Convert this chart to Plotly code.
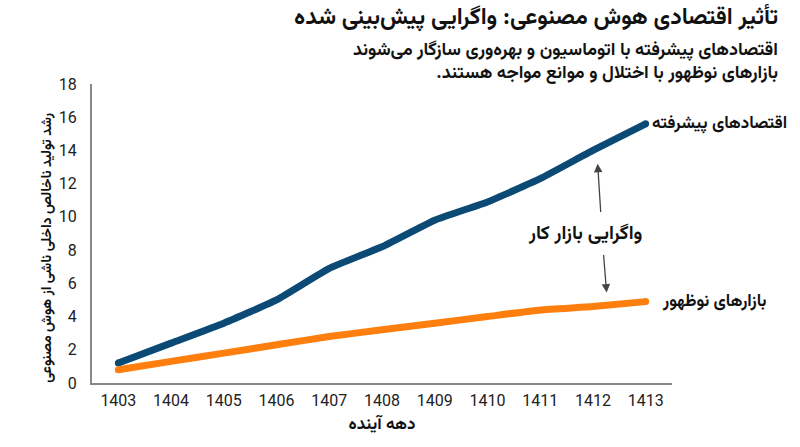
import plotly.graph_objects as go

years = [1403, 1404, 1405, 1406, 1407, 1408, 1409, 1410, 1411, 1412, 1413]
advanced = [1.2, 2.4, 3.6, 5.0, 6.9, 8.2, 9.8, 10.9, 12.3, 14.0, 15.6]
emerging = [0.8, 1.3, 1.8, 2.3, 2.8, 3.2, 3.6, 4.0, 4.4, 4.6, 4.9]
advanced_label = "اقتصادهای پیشرفته"
emerging_label = "بازارهای نوظهور"
gap_label = "واگرایی بازار کار"

blue = "#0c4a76"
orange = "#ff7f0e"
fa_font = "Vazirmatn, 'Noto Sans Arabic', 'DejaVu Sans', sans-serif"
RLM = "\u200f"

fig = go.Figure()
for vals, color in [(advanced, blue), (emerging, orange)]:
    fig.add_trace(go.Scatter(x=years, y=vals, mode="lines",
                             line=dict(color=color, width=7, shape="spline", smoothing=0.4),
                             hoverinfo="skip"))
    # round ends
    fig.add_trace(go.Scatter(x=[years[0], years[-1]], y=[vals[0], vals[-1]], mode="markers",
                             marker=dict(color=color, size=7), hoverinfo="skip"))

fig.add_annotation(x=years[-1], y=advanced[-1], text="<b>" + advanced_label + "</b>",
                   xanchor="left", yanchor="middle", xshift=4, showarrow=False,
                   font=dict(family=fa_font, size=17, color="#111"))
fig.add_annotation(x=years[-1], y=emerging[-1], text="<b>" + emerging_label + "</b>",
                   xanchor="left", yanchor="middle", xshift=14, showarrow=False,
                   font=dict(family=fa_font, size=17, color="#111"))
fig.add_annotation(x=1411.85, y=8.95, text="<b>" + gap_label + "</b>", showarrow=False,
                   font=dict(family=fa_font, size=19, color="#111"))
fig.add_annotation(x=1412.09, y=13.2, ax=1412.15, ay=10.2, axref="x", ayref="y",
                   showarrow=True, arrowhead=2, arrowsize=1.3, arrowwidth=1.3,
                   arrowcolor="#444", text="")
fig.add_annotation(x=1412.26, y=5.45, ax=1412.2, ay=7.8, axref="x", ayref="y",
                   showarrow=True, arrowhead=2, arrowsize=1.3, arrowwidth=1.3,
                   arrowcolor="#444", text="")

fig.add_annotation(xref="paper", yref="paper", x=1.186, y=1.221, xanchor="right", yanchor="middle",
                   text="<b>تأثیر اقتصادی هوش مصنوعی: واگرایی پیش‌بینی شده</b>", showarrow=False,
                   font=dict(family=fa_font, size=23, color="#111"))
fig.add_annotation(xref="paper", yref="paper", x=1.186, y=1.072, xanchor="right", yanchor="middle",
                   align="right",
                   text="<b>اقتصادهای پیشرفته با اتوماسیون و بهره‌وری سازگار می‌شوند</b><br>"
                        "<b>بازارهای نوظهور با اختلال و موانع مواجه هستند." + RLM + "</b>",
                   showarrow=False, font=dict(family=fa_font, size=18, color="#111"))

# y axis title placed by hand so it sits closer to the ticks
fig.add_annotation(xref="paper", yref="paper", x=-0.076, y=0.452, textangle=-90,
                   xanchor="center", yanchor="middle", showarrow=False,
                   text="<b>رشد تولید ناخالص داخلی ناشی از هوش مصنوعی</b>",
                   font=dict(family=fa_font, size=14, color="#111"))

fig.update_layout(
    width=800, height=447,
    margin=dict(l=92, r=128, t=84, b=64),
    paper_bgcolor="white", plot_bgcolor="white",
    showlegend=False,
    xaxis=dict(range=[1402.5, 1413.5], tickvals=years, ticktext=[str(y) for y in years],
               showgrid=False, zeroline=False, showline=True, linecolor="#888", linewidth=2,
               ticks="", ticklabelstandoff=2, tickfont=dict(family="Roboto", size=16, color="#222"),
               title=dict(text="<b>دهه آینده</b>", font=dict(family=fa_font, size=17, color="#111"),
                          standoff=8)),
    yaxis=dict(range=[0, 18], dtick=2, showgrid=False, zeroline=False, showline=True,
               linecolor="#888", linewidth=2, ticks="", ticklabelstandoff=10,
               tickfont=dict(family="Roboto", size=16, color="#222")),
)

fig.write_html("out.html", config={"displayModeBar": False},
               post_script="document.body.style.margin='0px';")
